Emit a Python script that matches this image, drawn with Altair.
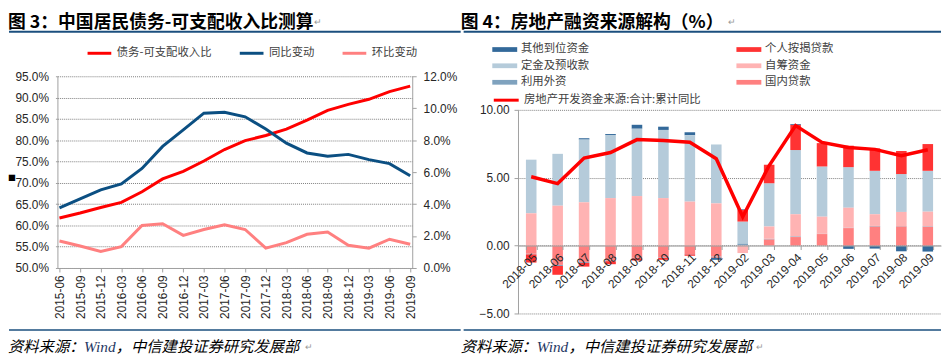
import altair as alt
import pandas as pd

FONT_CJK = "Noto Sans CJK SC"
FONT_NUM = "Liberation Sans"
BLUE_RULE = "#1B4F7E"
AX = "#A0A0A0"
LAB = "#262626"

# ---------------- Figure 3 data ----------------
quarters = ["2015-06", "2015-09", "2015-12", "2016-03", "2016-06", "2016-09",
            "2016-12", "2017-03", "2017-06", "2017-09", "2017-12", "2018-03",
            "2018-06", "2018-09", "2018-12", "2019-03", "2019-06", "2019-09"]
debt_ratio = [61.75, 62.9, 64.2, 65.4, 67.9, 70.9, 72.7, 75.1, 77.8, 79.9,
              81.1, 82.6, 84.7, 87.0, 88.4, 89.6, 91.4, 92.7]
yoy_change = [3.76, 4.33, 4.89, 5.26, 6.23, 7.61, 8.64, 9.69, 9.75, 9.46,
              8.70, 7.81, 7.20, 6.99, 7.11, 6.78, 6.53, 5.77]
qoq_change = [1.69, 1.38, 1.03, 1.34, 2.66, 2.77, 2.04, 2.41, 2.70, 2.41,
              1.24, 1.59, 2.11, 2.25, 1.42, 1.24, 1.80, 1.49]
series_left = ["债务-可支配收入比", "同比变动", "环比变动"]
colors_left = ["#FF0000", "#0B4F82", "#FF8080"]
left_ticks = [50, 55, 60, 65, 70, 75, 80, 85, 90, 95]
right_ticks = [0, 2, 4, 6, 8, 10, 12]

# ---------------- Figure 4 data ----------------
months = ["2018-05", "2018-06", "2018-07", "2018-08", "2018-09", "2018-10",
          "2018-11", "2018-12", "2019-01", "2019-02", "2019-03", "2019-04",
          "2019-05", "2019-06", "2019-07", "2019-08", "2019-09"]
domestic_loans = [-0.60, -1.42, -1.20, -1.10, -0.90, -0.86, -0.62, -0.80, None,
                  0.00, 0.45, 0.63, 0.85, 1.29, 1.40, 1.41, 1.38]
foreign_capital = [-0.05, -0.08, -0.07, -0.05, -0.04, -0.04, -0.03, -0.07, None,
                   0.15, 0.05, 0.05, 0.02, 0.03, 0.05, 0.03, 0.04]
self_raised = [2.38, 2.94, 3.19, 3.50, 3.65, 3.50, 3.24, 3.11, None,
               -0.55, 0.91, 1.63, 1.26, 1.47, 0.86, 1.04, 1.08]
deposits = [3.95, 3.82, 4.62, 4.65, 4.96, 5.02, 4.89, 4.34, None,
            1.62, 3.18, 4.73, 3.70, 2.99, 3.20, 2.79, 3.01]
mortgages = [-0.60, -0.65, -0.28, -0.22, -0.16, -0.15, -0.10, -0.03, None,
             0.85, 1.36, 1.85, 1.72, 1.58, 1.65, 1.70, 1.97]
other_funds = [0.00, 0.00, 0.10, 0.07, 0.29, 0.24, 0.22, -0.15, None,
               0.05, 0.00, 0.06, 0.00, -0.24, -0.22, -0.42, -0.44]
total_yoy = [5.07, 4.57, 6.45, 6.86, 7.81, 7.74, 7.62, 6.40, None,
             2.13, 5.90, 8.84, 7.60, 7.23, 7.09, 6.63, 7.06]
# legend fills column by column: left column first, then right column
series_right = ["其他到位资金", "定金及预收款", "利用外资", "个人按揭贷款", "自筹资金", "国内贷款"]
colors_right = ["#33699A", "#B5CBDA", "#7FA2BE", "#FF3333", "#FFB3B3", "#FF8080"]
stack_order = {"国内贷款": 0, "利用外资": 1, "自筹资金": 2, "定金及预收款": 3,
               "个人按揭贷款": 4, "其他到位资金": 5}
series_values = {"其他到位资金": other_funds, "个人按揭贷款": mortgages,
                 "定金及预收款": deposits, "自筹资金": self_raised,
                 "利用外资": foreign_capital, "国内贷款": domestic_loans}
line_name = "房地产开发资金来源:合计:累计同比"
r_ticks = [-5, 0, 5, 10]

title3 = "图 3：中国居民债务-可支配收入比测算"
title4 = "图 4：房地产融资来源解构（%）"
src_a = "资料来源："
src_b = "Wind"
src_c = "，中信建投证券研究发展部"


def text_layer(txt, x, y, size, color="#000000", weight="normal", style="normal",
               font=FONT_CJK):
    return alt.Chart(pd.DataFrame({"t": [txt]})).mark_text(
        align="left", baseline="alphabetic", fontSize=size, font=font,
        fontWeight=weight, fontStyle=style, color=color
    ).encode(text="t:N", x=alt.value(x), y=alt.value(y))


def hrule(x1, x2, y, color, w, opacity=1.0):
    return alt.Chart(pd.DataFrame({"a": [0]})).mark_rule(
        color=color, strokeWidth=w, strokeOpacity=opacity
    ).encode(x=alt.value(x1), x2=alt.value(x2), y=alt.value(y))


def decorations(dx, title, mark_x, foot_mark_x, rx1, rx2):
    return [
        hrule(rx1, rx2, -66.5, "#FFFFFF", 1, 0.0),   # invisible top anchor
        text_layer(title, dx, -49, 18, weight="bold"),
        text_layer("↵", mark_x, -52, 9, color="#999999"),
        hrule(rx1, rx2, -45, BLUE_RULE, 2),
        hrule(rx1, rx2, 256.7, BLUE_RULE, 1.5),
        text_layer(src_a, dx, 279, 15.5, style="italic"),
        text_layer(src_b, dx + 77, 279, 15.5, color="#1F3864", style="italic",
                   font="Liberation Serif"),
        text_layer(src_c, dx + 109, 279, 15.5, style="italic"),
        text_layer("↵", foot_mark_x, 277, 9, color="#999999"),
    ]


# ---------------- left panel ----------------
df_l1 = pd.DataFrame({"q": quarters, "v": debt_ratio, "s": series_left[0]})
df_l2 = pd.concat([
    pd.DataFrame({"q": quarters, "v": yoy_change, "s": series_left[1]}),
    pd.DataFrame({"q": quarters, "v": qoq_change, "s": series_left[2]}),
])

x_left = alt.X("q:O", sort=quarters, scale=alt.Scale(type="point", padding=0.1),
               axis=alt.Axis(title=None, labelAngle=-90, labelFont=FONT_NUM,
                             labelFontSize=12, labelColor=LAB, tickSize=4,
                             tickColor=AX, domainColor=AX, labelPadding=3))
color_left = alt.Color("s:N", scale=alt.Scale(domain=series_left, range=colors_left),
                       legend=alt.Legend(title=None, orient="none", legendX=35, legendY=-31,
                                         direction="horizontal", symbolType="M-2,0H2",
                                         symbolSize=144, symbolStrokeWidth=3,
                                         labelFont=FONT_CJK, labelFontSize=11.5,
                                         labelColor="#404040", labelOffset=10,
                                         columnPadding=22, padding=0, labelLimit=300))

pct = "format(datum.value, '.1f') + '%'"
line_l1 = alt.Chart(df_l1).mark_line(strokeWidth=3).encode(
    x=x_left,
    y=alt.Y("v:Q", scale=alt.Scale(domain=[50, 95], nice=False, zero=False),
            axis=alt.Axis(title=None, orient="left", values=left_ticks, labelExpr=pct,
                          grid=True, gridDash=[1, 1], gridColor="#7F7F7F",
                          labelFont=FONT_NUM, labelFontSize=12, labelColor=LAB,
                          tickSize=2, tickColor=AX, domainColor=AX, labelPadding=7)),
    color=color_left,
)
line_l2 = alt.Chart(df_l2).mark_line(strokeWidth=3).encode(
    x=x_left,
    y=alt.Y("v:Q", scale=alt.Scale(domain=[0, 12], nice=False),
            axis=alt.Axis(title=None, orient="right", values=right_ticks, labelExpr=pct,
                          grid=False, labelFont=FONT_NUM, labelFontSize=12,
                          labelColor=LAB, tickSize=4, tickColor=AX, domainColor=AX,
                          labelPadding=7)),
    color=color_left,
)

left = alt.layer(
    line_l1, line_l2,
    *decorations(-50, title3, 260, 250, -49, 408),
    text_layer("■", -50, 106, 8),
).resolve_scale(y="independent").properties(width=359, height=194)

# ---------------- right panel ----------------
rows = []
for name in series_right:
    for m, v in zip(months, series_values[name]):
        if v is not None:
            rows.append({"m": m, "s": name, "v": v, "o": stack_order[name]})
df_bars = pd.DataFrame(rows)
df_line = pd.DataFrame([{"m": m, "v": v, "n": line_name}
                        for m, v in zip(months, total_yoy) if v is not None])

y_scale_r = alt.Scale(domain=[-5, 10], range=[240, 34], nice=False, zero=False)
x_right = alt.X("m:O", sort=months,
                scale=alt.Scale(type="band", paddingInner=0.6, paddingOuter=0.3),
                axis=alt.Axis(title=None, labelAngle=-45, offset=-68.7, tickBand="extent",
                              labelFont=FONT_NUM, labelFontSize=12, labelColor=LAB,
                              tickSize=4, tickColor=AX, domainColor=AX, labelPadding=2,
                              zindex=1))

bars = alt.Chart(df_bars).mark_bar().encode(
    x=x_right,
    y=alt.Y("v:Q", stack="zero", scale=y_scale_r,
            axis=alt.Axis(title=None, values=r_ticks, format=".2f", grid=True,
                          gridDash=[1, 1], gridColor="#7F7F7F", labelFont=FONT_NUM,
                          labelFontSize=12, labelColor=LAB, tickSize=4, tickColor=AX,
                          domainColor=AX, labelPadding=5)),
    fill=alt.Fill("s:N", scale=alt.Scale(domain=series_right, range=colors_right),
                  legend=alt.Legend(title=None, orient="none", legendX=-19.4, legendY=-33.3,
                                    columns=2, symbolType="M-2.1,-0.4H2.1V0.4H-2.1Z",
                                    symbolSize=144, symbolStrokeWidth=0,
                                    labelFont=FONT_CJK, labelFontSize=11.5,
                                    labelColor="#404040", labelOffset=10.4,
                                    columnPadding=148, rowPadding=4.7, padding=0,
                                    labelLimit=300)),
    order=alt.Order("o:Q", sort="ascending"),
)
line_r = alt.Chart(df_line).mark_line(strokeWidth=3.5).encode(
    x=x_right,
    y=alt.Y("v:Q", scale=y_scale_r),
    stroke=alt.Stroke("n:N", scale=alt.Scale(domain=[line_name], range=["#FF0000"]),
                      legend=alt.Legend(title=None, orient="none", legendX=-19.4,
                                        legendY=16.7, symbolType="M-2.1,0H2.1",
                                        symbolSize=144, symbolStrokeWidth=3,
                                        labelFont=FONT_CJK, labelFontSize=11.5,
                                        labelColor="#404040", labelOffset=10.4,
                                        padding=0, labelLimit=400)),
)

right = alt.layer(
    bars, line_r,
    *decorations(-58, title4, 212, 241, -55, 428),
).properties(width=428, height=240)

chart = alt.hconcat(left, right, spacing=107, bounds="flush").resolve_scale(
    color="independent", fill="independent", stroke="independent"
).resolve_legend(
    color="independent", fill="independent", stroke="independent"
).properties(padding=0).configure_view(stroke=None)

chart.save("out.html", embed_options={"renderer": "svg", "actions": False})
